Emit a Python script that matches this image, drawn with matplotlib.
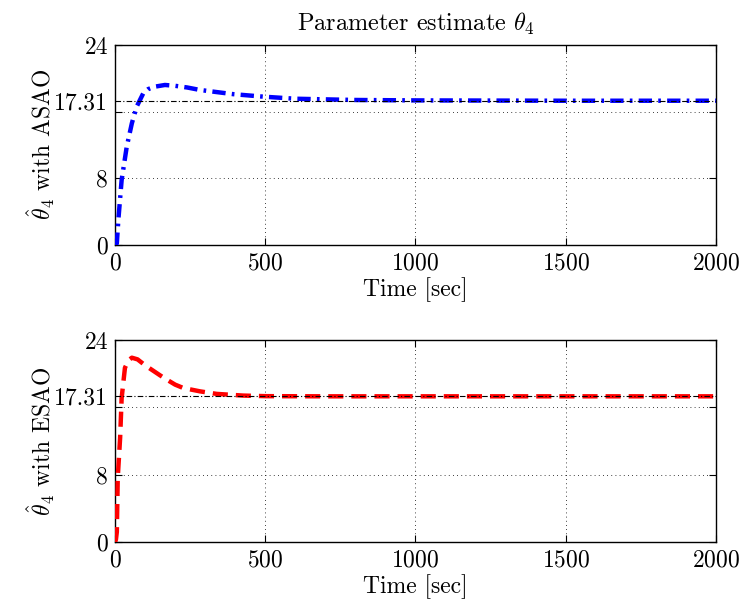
import matplotlib
matplotlib.use("Agg")
import matplotlib.pyplot as plt
import numpy as np

# ---- data ----
t_asao = [0, 6, 11, 22, 39, 56, 72, 94, 110, 133, 166, 200, 240, 283, 393, 493, 600, 800, 1000, 1500, 2000]
v_asao = [0, 0.2, 3.0, 7.8, 11.8, 14.6, 16.6, 18.2, 18.7, 19.0, 19.2, 19.1, 18.9, 18.6, 18.1, 17.8, 17.55, 17.4, 17.35, 17.31, 17.31]

t_esao = [0, 3, 6, 9, 17, 22, 33, 45, 56, 75, 100, 125, 150, 172, 200, 227, 283, 338, 426, 500, 700, 1000, 1500, 2000]
v_esao = [0, 0.3, 1.2, 7.6, 12.4, 17.1, 20.7, 21.6, 21.9, 21.7, 21.0, 20.4, 19.8, 19.3, 18.7, 18.3, 17.9, 17.6, 17.4, 17.33, 17.31, 17.31, 17.31, 17.31]

true_value = 17.31
x_ticks = [0, 500, 1000, 1500, 2000]
y_ticks = [0, 8, 16, 24]
y_ticklabels = ['0', '8', '', '24']
title = r'Parameter estimate $\theta_4$'
ylabels = [r'$\hat{\theta}_4$ with ASAO', r'$\hat{\theta}_4$ with ESAO']
xlabel = 'Time [sec]'

plt.rcParams['font.family'] = ['cmr10', 'DejaVu Serif']
plt.rcParams['mathtext.fontset'] = 'cm'
plt.rcParams['axes.formatter.use_mathtext'] = True
plt.rcParams['font.size'] = 17

fig = plt.figure(figsize=(7.45, 6.11), dpi=100)
ax1 = fig.add_axes([0.1544, 0.599, 0.8066, 0.3274])
ax2 = fig.add_axes([0.1544, 0.1129, 0.8066, 0.3306])

series = [(ax1, t_asao, v_asao, 'blue', (0, (3, 1.4, 0.6, 1.4))),
          (ax2, t_esao, v_esao, 'red', (0, (3.4, 1.8)))]

for i, (ax, t, v, c, ls) in enumerate(series):
    ax.plot(t, v, color=c, lw=3.2, linestyle=ls, zorder=3)
    ax.plot([0, 2000], [true_value, true_value], color='black', lw=0.8,
            linestyle=(0, (5, 2, 1, 2)), zorder=4)
    ax.set_xlim(0, 2000)
    ax.set_ylim(0, 24)
    ax.set_xticks(x_ticks)
    ax.set_yticks(y_ticks)
    ax.set_yticklabels(y_ticklabels)
    ax.set_yticks([true_value], labels=['17.31'], minor=True)
    ax.tick_params(axis='y', which='minor', length=0, pad=5)
    ax.tick_params(which='major', direction='in', top=True, right=True,
                   length=5, width=0.8, pad=5)
    ax.xaxis.set_minor_locator(matplotlib.ticker.NullLocator())
    ax.grid(True, which='major', color='black', linestyle=(0, (1, 4)), lw=0.6)
    for s in ax.spines.values():
        s.set_linewidth(1.0)
    ax.set_xlabel(xlabel, labelpad=2)
    ax.set_ylabel(ylabels[i], labelpad=-2)

ax1.set_title(title, fontsize=17.5, pad=10)

fig.savefig('out.png', dpi=100)
